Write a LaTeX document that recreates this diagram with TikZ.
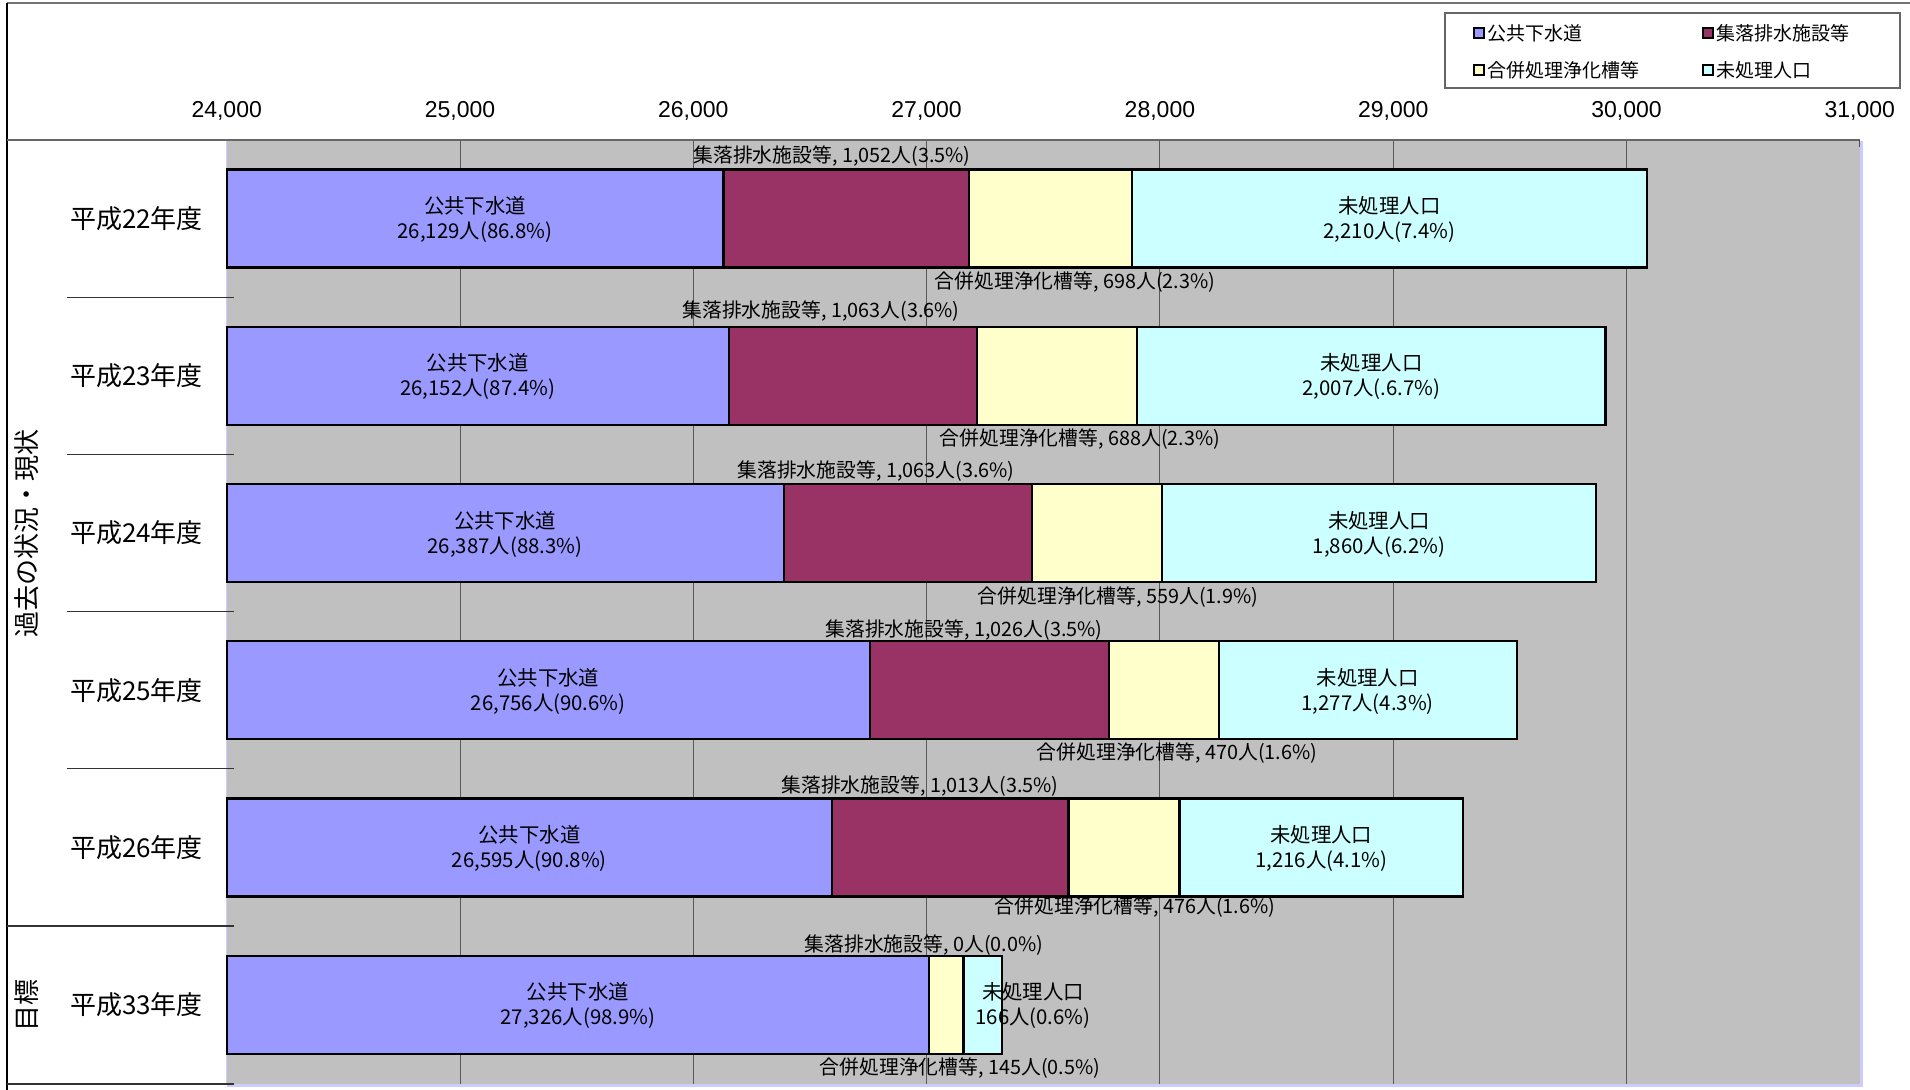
\documentclass[tikz,border=0pt]{standalone}
\usepackage{fontspec}
\setmainfont{Noto Sans CJK JP}
\newfontfamily\axisfont{Liberation Sans}
\definecolor{cPub}{HTML}{9999FF}
\definecolor{cVil}{HTML}{993366}
\definecolor{cJoh}{HTML}{FFFFCC}
\definecolor{cUnt}{HTML}{CCFFFF}
\definecolor{cPlot}{HTML}{C0C0C0}
\definecolor{cLav}{HTML}{CCCCFF}
\tikzset{
  seg/.style={draw=black, line width=1.1pt},
  inlbl/.style={font=\fontsize{10.2}{12.5}\selectfont, align=center, inner sep=0pt},
  outlbl/.style={font=\fontsize{9.9}{11}\selectfont, inner sep=0pt},
  rowlbl/.style={font=\fontsize{13}{15}\selectfont, inner sep=0pt},
  axlbl/.style={font=\axisfont\fontsize{11.5}{13}\selectfont, inner sep=0pt},
  leglbl/.style={font=\fontsize{9.5}{11}\selectfont, inner sep=0pt, anchor=west},
  legmark/.style={draw=black, line width=1pt},
  gridln/.style={draw=black!65, line width=0.5pt},
  sepln/.style={draw=black!80, line width=0.6pt},
}
\begin{document}
\begin{tikzpicture}[x=0.5pt,y=-0.5pt]
\useasboundingbox (0,0) rectangle (1910,1090);
\fill[white] (0,0) rectangle (1910,1090);
% outer frame
\draw[black!55, line width=0.8pt] (7,3) -- (1910,3);
\draw[black, line width=0.7pt] (7,3) -- (7,1090);
% plot area
\fill[cPlot] (226.7,140) rectangle (1859.8,1084);
\draw[cLav, line width=1.5pt] (226.7,1085) -- (1861,1085) -- (1861,141);
\draw[cLav, line width=0.5pt] (226.7,141) -- (226.7,1084);
\foreach \k in {1,...,6} \draw[gridln] ({226.7+233.3*\k},140) -- ({226.7+233.3*\k},1084);
\draw[black!60, line width=0.8pt] (7,140) -- (1859.8,140);
\draw[black!70, line width=0.6pt] (1859.8,140) -- (1859.8,147);
% axis labels
\node[axlbl] (ax0) at (226.7,111) {24,000};
\node[axlbl] (ax1) at (460.0,111) {25,000};
\node[axlbl] (ax2) at (693.3,111) {26,000};
\node[axlbl] (ax3) at (926.6,111) {27,000};
\node[axlbl] (ax4) at (1159.9,111) {28,000};
\node[axlbl] (ax5) at (1393.2,111) {29,000};
\node[axlbl] (ax6) at (1626.5,111) {30,000};
\node[axlbl] (ax7) at (1859.8,111) {31,000};
% legend
\draw[black!60, line width=0.6pt, fill=white] (1445,13) rectangle (1900,88);
\draw[legmark, fill=cPub] (1474,28) rectangle (1484,38);
\node[leglbl] (lg1) at (1487,33) {公共下水道};
\draw[legmark, fill=cVil] (1703,28) rectangle (1713,38);
\node[leglbl] (lg2) at (1716,33) {集落排水施設等};
\draw[legmark, fill=cJoh] (1474,65) rectangle (1484,75);
\node[leglbl] (lg3) at (1487,70) {合併処理浄化槽等};
\draw[legmark, fill=cUnt] (1703,65) rectangle (1713,75);
\node[leglbl] (lg4) at (1716,70) {未処理人口};
% left label area separators
\foreach \yy in {297.2,454.4,611.6,768.8} \draw[sepln] (67,\yy) -- (234,\yy);
\draw[sepln] (7,926) -- (234,926);
\draw[sepln] (7,1084) -- (234,1084);
% row labels
\node[rowlbl] (r1) at (136.5,218.6) {平成22年度};
\node[rowlbl] (r2) at (136.5,375.8) {平成23年度};
\node[rowlbl] (r3) at (136.5,533.0) {平成24年度};
\node[rowlbl] (r4) at (136.5,690.2) {平成25年度};
\node[rowlbl] (r5) at (136.5,847.4) {平成26年度};
\node[rowlbl] (r6) at (136.5,1004.6) {平成33年度};
\node[rowlbl, rotate=90] (grpA) at (27,533) {過去の状況・現状};
\node[rowlbl, rotate=90] (grpB) at (27,1005) {目標};
% bars
% row 1
\filldraw[seg, fill=cPub] (226.7,169.6) rectangle (723.4,267.6);
\filldraw[seg, fill=cVil] (723.4,169.6) rectangle (968.8,267.6);
\filldraw[seg, fill=cJoh] (968.8,169.6) rectangle (1131.7,267.6);
\filldraw[seg, fill=cUnt] (1131.7,169.6) rectangle (1647.3,267.6);
% row 2
\filldraw[seg, fill=cPub] (226.7,326.8) rectangle (728.8,424.8);
\filldraw[seg, fill=cVil] (728.8,326.8) rectangle (976.8,424.8);
\filldraw[seg, fill=cJoh] (976.8,326.8) rectangle (1137.3,424.8);
\filldraw[seg, fill=cUnt] (1137.3,326.8) rectangle (1605.5,424.8);
% row 3
\filldraw[seg, fill=cPub] (226.7,484.0) rectangle (783.6,582.0);
\filldraw[seg, fill=cVil] (783.6,484.0) rectangle (1031.6,582.0);
\filldraw[seg, fill=cJoh] (1031.6,484.0) rectangle (1162.0,582.0);
\filldraw[seg, fill=cUnt] (1162.0,484.0) rectangle (1595.9,582.0);
% row 4
\filldraw[seg, fill=cPub] (226.7,641.2) rectangle (869.7,739.2);
\filldraw[seg, fill=cVil] (869.7,641.2) rectangle (1109.0,739.2);
\filldraw[seg, fill=cJoh] (1109.0,641.2) rectangle (1218.7,739.2);
\filldraw[seg, fill=cUnt] (1218.7,641.2) rectangle (1516.6,739.2);
% row 5
\filldraw[seg, fill=cPub] (226.7,798.4) rectangle (832.1,896.4);
\filldraw[seg, fill=cVil] (832.1,798.4) rectangle (1068.4,896.4);
\filldraw[seg, fill=cJoh] (1068.4,798.4) rectangle (1179.5,896.4);
\filldraw[seg, fill=cUnt] (1179.5,798.4) rectangle (1463.2,896.4);
% row 6
\filldraw[seg, fill=cPub] (226.7,955.6) rectangle (929.0,1053.6);
\filldraw[seg, fill=cJoh] (929.0,955.6) rectangle (963.5,1053.6);
\filldraw[seg, fill=cUnt] (963.5,955.6) rectangle (1002.0,1053.6);
% inside labels
\node[inlbl] (p1) at (475.0,219.6) {公共下水道\\26,129人(86.8\%)};
\node[inlbl] (u1) at (1389.5,219.6) {未処理人口\\2,210人(7.4\%)};
\node[inlbl] (p2) at (477.7,376.8) {公共下水道\\26,152人(87.4\%)};
\node[inlbl] (u2) at (1371.4,376.8) {未処理人口\\2,007人(.6.7\%)};
\node[inlbl] (p3) at (505.1,534.0) {公共下水道\\26,387人(88.3\%)};
\node[inlbl] (u3) at (1379.0,534.0) {未処理人口\\1,860人(6.2\%)};
\node[inlbl] (p4) at (548.2,691.2) {公共下水道\\26,756人(90.6\%)};
\node[inlbl] (u4) at (1367.6,691.2) {未処理人口\\1,277人(4.3\%)};
\node[inlbl] (p5) at (529.4,848.4) {公共下水道\\26,595人(90.8\%)};
\node[inlbl] (u5) at (1321.3,848.4) {未処理人口\\1,216人(4.1\%)};
\node[inlbl] (p6) at (577.9,1005.6) {公共下水道\\27,326人(98.9\%)};
\node[inlbl] (u6) at (1033.0,1005.6) {未処理人口\\166人(0.6\%)};
% outside labels
\node[outlbl] (v1) at (832.0,155.6) {集落排水施設等, 1,052人(3.5\%)};
\node[outlbl] (j1) at (1075.0,281.8) {合併処理浄化槽等, 698人(2.3\%)};
\node[outlbl] (v2) at (821.0,311.0) {集落排水施設等, 1,063人(3.6\%)};
\node[outlbl] (j2) at (1080.0,438.8) {合併処理浄化槽等, 688人(2.3\%)};
\node[outlbl] (v3) at (876.0,470.8) {集落排水施設等, 1,063人(3.6\%)};
\node[outlbl] (j3) at (1118.0,597.0) {合併処理浄化槽等, 559人(1.9\%)};
\node[outlbl] (v4) at (964.0,629.8) {集落排水施設等, 1,026人(3.5\%)};
\node[outlbl] (j4) at (1177.0,753.0) {合併処理浄化槽等, 470人(1.6\%)};
\node[outlbl] (v5) at (920.0,786.0) {集落排水施設等, 1,013人(3.5\%)};
\node[outlbl] (j5) at (1135.0,907.5) {合併処理浄化槽等, 476人(1.6\%)};
\node[outlbl] (v6) at (924.0,945.0) {集落排水施設等, 0人(0.0\%)};
\node[outlbl] (j6) at (960.0,1068.0) {合併処理浄化槽等, 145人(0.5\%)};
\end{tikzpicture}
\end{document}
